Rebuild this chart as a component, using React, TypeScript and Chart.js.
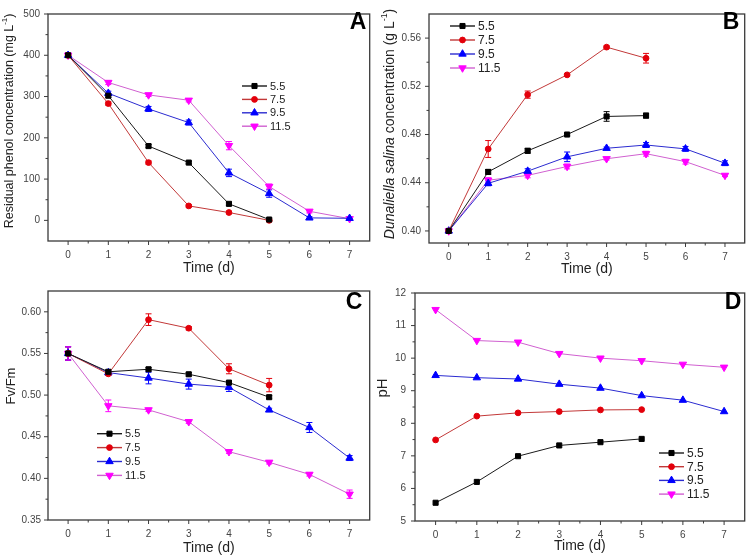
import React, { useEffect, useRef } from "react";
import { Chart, registerables } from "chart.js";

Chart.register(...registerables);

const FONT = "'Liberation Sans', Arial, Helvetica, sans-serif";

// ---------- data ----------
const days = [0, 1, 2, 3, 4, 5, 6, 7];
const seriesNames = ["5.5", "7.5", "9.5", "11.5"];

// Panel A: residual phenol (mg L-1)
const phenol55 = [400, 302, 180, 140, 40, 2];
const phenol75 = [400, 283, 140, 35, 19, 0];
const phenol95 = [400, 308, 270, 237, 115, 65, 6, 5];
const phenol115 = [400, 334, 304, 291, 181, 82, 22, 4];
const phenolErr55 = [3, 4, 4, 3, 4, 3];
const phenolErr75 = [3, 4, 4, 3, 3, 3];
const phenolErr95 = [5, 5, 6, 6, 9, 9, 3, 3];
const phenolErr115 = [5, 5, 4, 4, 10, 6, 4, 3];
const phenolTicks = [0, 100, 200, 300, 400, 500];

// Panel B: Dunaliella salina concentration (g L-1)
const algae55 = [0.4, 0.449, 0.4665, 0.48, 0.495, 0.4957];
const algae75 = [0.4, 0.468, 0.5131, 0.5295, 0.5525, 0.5433];
const algae95 = [0.4, 0.4395, 0.4496, 0.4615, 0.4686, 0.4713, 0.4681, 0.4562];
const algae115 = [0.4, 0.4421, 0.4461, 0.4535, 0.4599, 0.4641, 0.4575, 0.4461];
const algaeErr55 = [0.001, 0.002, 0.002, 0.001, 0.004, 0.002];
const algaeErr75 = [0.001, 0.007, 0.003, 0.001, 0.001, 0.004];
const algaeErr95 = [0.001, 0.002, 0.002, 0.004, 0.001, 0.002, 0.002, 0.002];
const algaeErr115 = [0.001, 0.002, 0.002, 0.002, 0.001, 0.002, 0.002, 0.001];
const algaeTicks = [0.4, 0.44, 0.48, 0.52, 0.56];

// Panel C: Fv/Fm
const fvfm55 = [0.55, 0.528, 0.531, 0.525, 0.515, 0.4975];
const fvfm75 = [0.55, 0.5255, 0.5906, 0.5803, 0.5316, 0.512];
const fvfm95 = [0.55, 0.527, 0.5205, 0.5132, 0.5094, 0.4822, 0.4611, 0.4244];
const fvfm115 = [0.55, 0.4871, 0.4822, 0.468, 0.432, 0.4193, 0.4048, 0.381];
const fvfmErr55 = [0.008, 0.002, 0.002, 0.002, 0.002, 0.002];
const fvfmErr75 = [0.008, 0.002, 0.007, 0.002, 0.006, 0.008];
const fvfmErr95 = [0.008, 0.003, 0.007, 0.006, 0.005, 0.002, 0.006, 0.003];
const fvfmErr115 = [0.008, 0.007, 0.002, 0.002, 0.002, 0.002, 0.002, 0.005];
const fvfmTicks = [0.35, 0.4, 0.45, 0.5, 0.55, 0.6];

// Panel D: pH
const ph55 = [5.56, 6.2, 6.99, 7.32, 7.42, 7.52];
const ph75 = [7.49, 8.22, 8.32, 8.36, 8.41, 8.42];
const ph95 = [9.47, 9.4, 9.36, 9.2, 9.08, 8.85, 8.71, 8.36];
const ph115 = [11.49, 10.54, 10.49, 10.14, 10.0, 9.92, 9.81, 9.72];
const phTicks = [5, 6, 7, 8, 9, 10, 11, 12];

const dayTicks = [0, 1, 2, 3, 4, 5, 6, 7];

// ---------- styles ----------
const markerColors = ["#000000", "#e3000b", "#0000ff", "#ff00ff"];
const lineColors = ["#1a1a1a", "#c23838", "#2b2bd0", "#d060d0"];
const pointStyles = ["rect", "circle", "triangle", "triangle"];
const pointRotations = [0, 0, 0, 180];
const pointRadii = [3.6, 2.9, 4.3, 4.3];

type TitlePart = { text: string; italic?: boolean; sup?: boolean };

type PanelSpec = {
  left: number;
  top: number;
  w: number;
  h: number;
  pad: { top: number; right: number };
  yWidth: number;
  xHeight: number;
  yPad: number;
  yMin: number;
  yMax: number;
  yTicks: number[];
  decimals: number;
  series: number[][];
  errors: number[][] | null;
  yTitle: TitlePart[];
  yTitleSize: number;
  yTitlePos: [number, number];
  xTitleY: number;
  letter: string;
  letterPos: [number, number];
  legend: { x: number; y: number; dy: number; size: number };
};

function drawMarker(ctx: CanvasRenderingContext2D, idx: number, x: number, y: number) {
  const r = pointRadii[idx];
  ctx.save();
  ctx.fillStyle = markerColors[idx];
  ctx.strokeStyle = markerColors[idx];
  ctx.lineWidth = 1;
  ctx.beginPath();
  const style = pointStyles[idx];
  if (style === "rect") {
    const s = Math.SQRT1_2 * r;
    ctx.rect(x - s, y - s, 2 * s, 2 * s);
  } else if (style === "circle") {
    ctx.arc(x, y, r, 0, Math.PI * 2);
  } else {
    let rad = (pointRotations[idx] * Math.PI) / 180;
    const step = (2 * Math.PI) / 3;
    ctx.moveTo(x + Math.sin(rad) * r, y - Math.cos(rad) * r);
    rad += step;
    ctx.lineTo(x + Math.sin(rad) * r, y - Math.cos(rad) * r);
    rad += step;
    ctx.lineTo(x + Math.sin(rad) * r, y - Math.cos(rad) * r);
    ctx.closePath();
  }
  ctx.fill();
  ctx.stroke();
  ctx.restore();
}

function makeDecor(spec: PanelSpec) {
  return {
    id: "decor" + spec.letter,
    beforeDatasetsDraw(chart: any) {
      if (!spec.errors) return;
      const ctx: CanvasRenderingContext2D = chart.ctx;
      const ys = chart.scales.y;
      spec.errors.forEach((errs, i) => {
        const meta = chart.getDatasetMeta(i);
        ctx.save();
        ctx.strokeStyle = markerColors[i];
        ctx.lineWidth = 1;
        errs.forEach((e, j) => {
          const pt = meta.data[j];
          if (!pt || !e) return;
          const v = spec.series[i][j];
          const y1 = ys.getPixelForValue(v + e);
          const y2 = ys.getPixelForValue(v - e);
          const x = pt.x;
          ctx.beginPath();
          ctx.moveTo(x, y1);
          ctx.lineTo(x, y2);
          ctx.moveTo(x - 3, y1);
          ctx.lineTo(x + 3, y1);
          ctx.moveTo(x - 3, y2);
          ctx.lineTo(x + 3, y2);
          ctx.stroke();
        });
        ctx.restore();
      });
    },
    afterDraw(chart: any) {
      const ctx: CanvasRenderingContext2D = chart.ctx;
      const a = chart.chartArea;
      const xs = chart.scales.x;
      const ys = chart.scales.y;
      ctx.save();
      // frame
      ctx.strokeStyle = "#3a3a3a";
      ctx.lineWidth = 1.3;
      ctx.strokeRect(a.left, a.top, a.right - a.left, a.bottom - a.top);
      // ticks
      ctx.lineWidth = 1;
      const tickVals = (scale: any) => {
        const maj: number[] = scale.ticks.map((t: any) => t.value);
        const mins: number[] = [];
        for (let k = 0; k < maj.length - 1; k++) mins.push((maj[k] + maj[k + 1]) / 2);
        if (maj.length > 1) {
          const st = maj[1] - maj[0];
          const lo = maj[0] - st / 2;
          const hi = maj[maj.length - 1] + st / 2;
          if (lo > scale.min + 1e-9) mins.push(lo);
          if (hi < scale.max - 1e-9) mins.push(hi);
        }
        return { maj, mins };
      };
      const yt = tickVals(ys);
      ctx.beginPath();
      yt.maj.forEach((v) => {
        const p = ys.getPixelForValue(v);
        ctx.moveTo(a.left, p);
        ctx.lineTo(a.left - 4, p);
      });
      yt.mins.forEach((v) => {
        const p = ys.getPixelForValue(v);
        ctx.moveTo(a.left, p);
        ctx.lineTo(a.left - 2.5, p);
      });
      const xt = tickVals(xs);
      xt.maj.forEach((v) => {
        const p = xs.getPixelForValue(v);
        ctx.moveTo(p, a.bottom);
        ctx.lineTo(p, a.bottom + 4);
      });
      xt.mins.forEach((v) => {
        const p = xs.getPixelForValue(v);
        ctx.moveTo(p, a.bottom);
        ctx.lineTo(p, a.bottom + 2.5);
      });
      ctx.stroke();

      // x title
      ctx.fillStyle = "#222";
      ctx.font = `14px ${FONT}`;
      ctx.textAlign = "center";
      ctx.textBaseline = "middle";
      ctx.fillText("Time (d)", (a.left + a.right) / 2, spec.xTitleY);

      // y title (rotated, mixed styles)
      const sz = spec.yTitleSize;
      const fontFor = (p: TitlePart) =>
        `${p.italic ? "italic " : ""}${p.sup ? sz * 0.62 : sz}px ${FONT}`;
      let total = 0;
      spec.yTitle.forEach((p) => {
        ctx.font = fontFor(p);
        total += ctx.measureText(p.text).width;
      });
      ctx.translate(spec.yTitlePos[0], spec.yTitlePos[1]);
      ctx.rotate(-Math.PI / 2);
      ctx.textAlign = "left";
      ctx.textBaseline = "middle";
      let cx = -total / 2;
      spec.yTitle.forEach((p) => {
        ctx.font = fontFor(p);
        ctx.fillText(p.text, cx, p.sup ? -sz * 0.38 : 0);
        cx += ctx.measureText(p.text).width;
      });
      ctx.setTransform(1, 0, 0, 1, 0, 0);

      // panel letter
      ctx.font = `bold 23px ${FONT}`;
      ctx.fillStyle = "#000";
      ctx.textAlign = "center";
      ctx.textBaseline = "middle";
      ctx.fillText(spec.letter, spec.letterPos[0], spec.letterPos[1]);

      // legend
      const lg = spec.legend;
      seriesNames.forEach((name, i) => {
        const y = lg.y + i * lg.dy;
        ctx.strokeStyle = lineColors[i];
        ctx.lineWidth = 1.4;
        ctx.beginPath();
        ctx.moveTo(lg.x, y);
        ctx.lineTo(lg.x + 25, y);
        ctx.stroke();
        drawMarker(ctx, i, lg.x + 12.5, y);
        ctx.fillStyle = "#222";
        ctx.font = `${lg.size}px ${FONT}`;
        ctx.textAlign = "left";
        ctx.textBaseline = "middle";
        ctx.fillText(name, lg.x + 28, y + 0.5);
      });
      ctx.restore();
    },
  };
}

function buildConfig(spec: PanelSpec): any {
  const datasets = spec.series.map((vals, i) => ({
    label: seriesNames[i],
    data: vals.map((v, j) => ({ x: days[j], y: v })),
    borderColor: lineColors[i],
    backgroundColor: markerColors[i],
    borderWidth: 1,
    pointStyle: pointStyles[i],
    pointRotation: pointRotations[i],
    pointRadius: pointRadii[i],
    pointBackgroundColor: markerColors[i],
    pointBorderColor: markerColors[i],
    pointBorderWidth: 1,
    tension: 0,
    fill: false,
    clip: false,
  }));
  return {
    type: "line",
    data: { datasets },
    plugins: [makeDecor(spec)],
    options: {
      animation: false,
      responsive: false,
      devicePixelRatio: 1,
      layout: { padding: { left: 0, top: spec.pad.top, right: spec.pad.right, bottom: 0 } },
      plugins: { legend: { display: false }, tooltip: { enabled: false } },
      scales: {
        x: {
          type: "linear",
          min: -0.5,
          max: 7.5,
          grid: { display: false, drawTicks: false },
          border: { display: false },
          afterBuildTicks: (s: any) => {
            s.ticks = dayTicks.map((v) => ({ value: v }));
          },
          afterFit: (s: any) => {
            s.height = spec.xHeight;
          },
          ticks: {
            padding: 8,
            color: "#444",
            font: { family: FONT, size: 10 },
            maxRotation: 0,
            callback: (v: any) => String(v),
          },
        },
        y: {
          type: "linear",
          min: spec.yMin,
          max: spec.yMax,
          grid: { display: false, drawTicks: false },
          border: { display: false },
          afterBuildTicks: (s: any) => {
            s.ticks = spec.yTicks.map((v) => ({ value: v }));
          },
          afterFit: (s: any) => {
            s.width = spec.yWidth;
          },
          ticks: {
            padding: spec.yPad,
            color: "#444",
            font: { family: FONT, size: 10 },
            callback: (v: any) => Number(v).toFixed(spec.decimals),
          },
        },
      },
    },
  };
}

const panels: PanelSpec[] = [
  {
    left: 0, top: 0, w: 375, h: 278,
    pad: { top: 8, right: 4 }, yWidth: 48, xHeight: 37, yPad: 8,
    yMin: -50, yMax: 500, yTicks: phenolTicks, decimals: 0,
    series: [phenol55, phenol75, phenol95, phenol115],
    errors: [phenolErr55, phenolErr75, phenolErr95, phenolErr115],
    yTitle: [{ text: "Residual phenol concentration (mg L" }, { text: "-1", sup: true }, { text: ")" }],
    yTitleSize: 12.5, yTitlePos: [10, 121], xTitleY: 268,
    letter: "A", letterPos: [358, 23],
    legend: { x: 242, y: 86, dy: 13.4, size: 11 },
  },
  {
    left: 375, top: 0, w: 375, h: 278,
    pad: { top: 3, right: 5 }, yWidth: 54, xHeight: 35, yPad: 8,
    yMin: 0.39, yMax: 0.58, yTicks: algaeTicks, decimals: 2,
    series: [algae55, algae75, algae95, algae115],
    errors: [algaeErr55, algaeErr75, algaeErr95, algaeErr115],
    yTitle: [
      { text: "Dunaliella salina", italic: true },
      { text: " concentration (g L" },
      { text: "-1", sup: true },
      { text: ")" },
    ],
    yTitleSize: 14, yTitlePos: [15, 124], xTitleY: 269,
    letter: "B", letterPos: [356, 23],
    legend: { x: 75, y: 26, dy: 14, size: 12 },
  },
  {
    left: 0, top: 278, w: 375, h: 279,
    pad: { top: 3, right: 4 }, yWidth: 48, xHeight: 37, yPad: 7,
    yMin: 0.35, yMax: 0.625, yTicks: fvfmTicks, decimals: 2,
    series: [fvfm55, fvfm75, fvfm95, fvfm115],
    errors: [fvfmErr55, fvfmErr75, fvfmErr95, fvfmErr115],
    yTitle: [{ text: "Fv/Fm" }],
    yTitleSize: 13, yTitlePos: [11, 108], xTitleY: 270.5,
    letter: "C", letterPos: [354, 25],
    legend: { x: 97, y: 155.7, dy: 13.9, size: 11 },
  },
  {
    left: 375, top: 278, w: 375, h: 279,
    pad: { top: 6, right: 4 }, yWidth: 40, xHeight: 36, yPad: 9,
    yMin: 5, yMax: 12, yTicks: phTicks, decimals: 0,
    series: [ph55, ph75, ph95, ph115],
    errors: null,
    yTitle: [{ text: "pH" }],
    yTitleSize: 15, yTitlePos: [8, 110], xTitleY: 268,
    letter: "D", letterPos: [358, 25],
    legend: { x: 284, y: 175, dy: 13.7, size: 12 },
  },
];

function Panel({ spec }: { spec: PanelSpec }) {
  const ref = useRef<HTMLCanvasElement>(null);
  useEffect(() => {
    if (!ref.current) return;
    const chart = new Chart(ref.current, buildConfig(spec));
    return () => chart.destroy();
  }, [spec]);
  return (
    <canvas
      ref={ref}
      width={spec.w}
      height={spec.h}
      style={{ position: "absolute", left: spec.left, top: spec.top, width: spec.w, height: spec.h }}
    />
  );
}

export default function App() {
  return (
    <div
      style={{
        position: "fixed",
        left: 0,
        top: 0,
        width: 750,
        height: 557,
        background: "#ffffff",
        overflow: "hidden",
      }}
    >
      {panels.map((p) => (
        <Panel key={p.letter} spec={p} />
      ))}
    </div>
  );
}
